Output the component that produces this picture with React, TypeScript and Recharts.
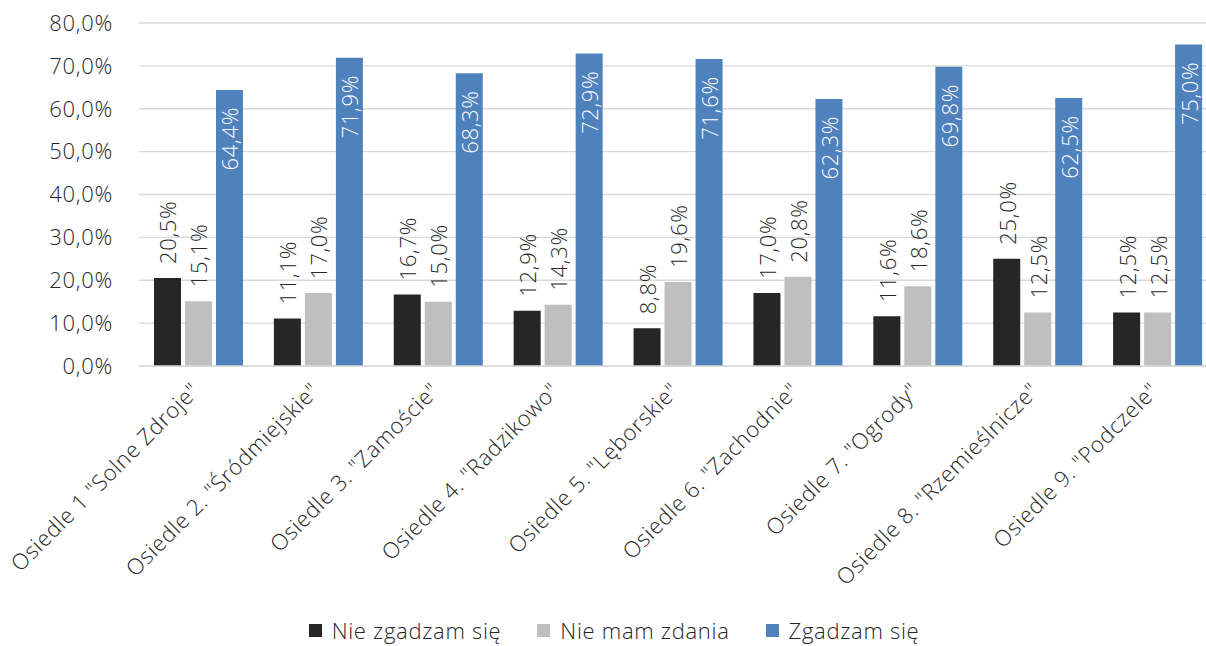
import { BarChart, Bar, XAxis, YAxis, CartesianGrid, Legend, LabelList } from "recharts";

const categories = [
  'Osiedle 1 "Solne Zdroje"',
  'Osiedle 2. "Śródmiejskie"',
  'Osiedle 3. "Zamoście"',
  'Osiedle 4. "Radzikowo"',
  'Osiedle 5. "Lęborskie"',
  'Osiedle 6. "Zachodnie"',
  'Osiedle 7. "Ogrody"',
  'Osiedle 8. "Rzemieślnicze"',
  'Osiedle 9. "Podczele"',
];
const disagree = [20.5, 11.1, 16.7, 12.9, 8.8, 17.0, 11.6, 25.0, 12.5];
const noOpinion = [15.1, 17.0, 15.0, 14.3, 19.6, 20.8, 18.6, 12.5, 12.5];
const agree = [64.4, 71.9, 68.3, 72.9, 71.6, 62.3, 69.8, 62.5, 75.0];
const yTicks = [0, 10, 20, 30, 40, 50, 60, 70, 80];

const seriesNames = ["Nie zgadzam się", "Nie mam zdania", "Zgadzam się"];
const colors = ["#262626", "#bfbfbf", "#4f81bd"];

const data = categories.map((name, i) => ({
  name,
  disagree: disagree[i],
  noOpinion: noOpinion[i],
  agree: agree[i],
}));

const FONT = "'Open Sans', 'Segoe UI', sans-serif";
const TEXT = "#262626";
const FS = 22;
const LS = 0.7;

const pct = (v: number) => v.toFixed(1).replace(".", ",") + "%";

function OutsideLabel(props: any) {
  const { x, y, width, value } = props;
  const cx = x + width / 2;
  const ty = y - 14;
  return (
    <text
      x={cx}
      y={ty}
      transform={`rotate(-90 ${cx} ${ty})`}
      textAnchor="start"
      dominantBaseline="central"
      fontFamily={FONT}
      fontWeight={300}
      fontSize={FS}
      letterSpacing={LS}
      fill={TEXT}
    >
      {pct(value)}
    </text>
  );
}

function InsideLabel(props: any) {
  const { x, y, width, value } = props;
  const cx = x + width / 2;
  const ty = y + 17;
  return (
    <text
      x={cx}
      y={ty}
      transform={`rotate(-90 ${cx} ${ty})`}
      textAnchor="end"
      dominantBaseline="central"
      fontFamily={FONT}
      fontWeight={300}
      fontSize={FS}
      letterSpacing={LS}
      fill="#ffffff"
    >
      {pct(value)}
    </text>
  );
}

function CategoryTick(props: any) {
  const { x, y, payload } = props;
  return (
    <g transform={`translate(${x + 2},${y + 26}) rotate(-45)`}>
      <text
        x={0}
        y={0}
        textAnchor="end"
        fontFamily={FONT}
        fontWeight={300}
        fontSize={FS}
        letterSpacing={LS}
        fill={TEXT}
      >
        {payload.value}
      </text>
    </g>
  );
}

function LegendContent() {
  return (
    <div
      style={{
        display: "flex",
        justifyContent: "center",
        gap: 36,
        paddingTop: 8,
        paddingLeft: 10,
        fontFamily: FONT,
        fontWeight: 300,
        fontSize: FS,
        letterSpacing: LS,
        color: TEXT,
        lineHeight: "28px",
      }}
    >
      {seriesNames.map((n, i) => (
        <div key={n} style={{ display: "flex", alignItems: "center", gap: 10 }}>
          <span style={{ width: 13, height: 13, background: colors[i], display: "inline-block" }} />
          <span>{n}</span>
        </div>
      ))}
    </div>
  );
}

export default function App() {
  return (
    <div
      style={{
        position: "absolute",
        left: 0,
        top: 0,
        width: 1206,
        height: 646,
        overflow: "hidden",
        background: "#fff",
      }}
    >
      <BarChart
        width={1218}
        height={646}
        data={data}
        margin={{ top: 23, right: 0, left: 0, bottom: 0 }}
        barGap={4}
        barSize={27}
      >
        <CartesianGrid stroke="#d9d9d9" strokeWidth={1.3} vertical={false} />
        <XAxis
          dataKey="name"
          interval={0}
          height={242}
          tickSize={0}
          tickMargin={0}
          axisLine={{ stroke: "#d9d9d9", strokeWidth: 1.3 }}
          tickLine={false}
          tick={<CategoryTick />}
        />
        <YAxis
          width={139}
          domain={[0, 80]}
          ticks={yTicks}
          tickSize={0}
          tickMargin={26}
          axisLine={false}
          tickLine={false}
          tickFormatter={pct}
          tick={{ fontFamily: FONT, fontWeight: 300, fontSize: FS, letterSpacing: LS, fill: TEXT }}
        />
        <Legend verticalAlign="bottom" height={38} content={<LegendContent />} />
        <Bar dataKey="disagree" name={seriesNames[0]} fill={colors[0]} isAnimationActive={false}>
          <LabelList dataKey="disagree" content={<OutsideLabel />} />
        </Bar>
        <Bar dataKey="noOpinion" name={seriesNames[1]} fill={colors[1]} isAnimationActive={false}>
          <LabelList dataKey="noOpinion" content={<OutsideLabel />} />
        </Bar>
        <Bar dataKey="agree" name={seriesNames[2]} fill={colors[2]} isAnimationActive={false}>
          <LabelList dataKey="agree" content={<InsideLabel />} />
        </Bar>
      </BarChart>
    </div>
  );
}
